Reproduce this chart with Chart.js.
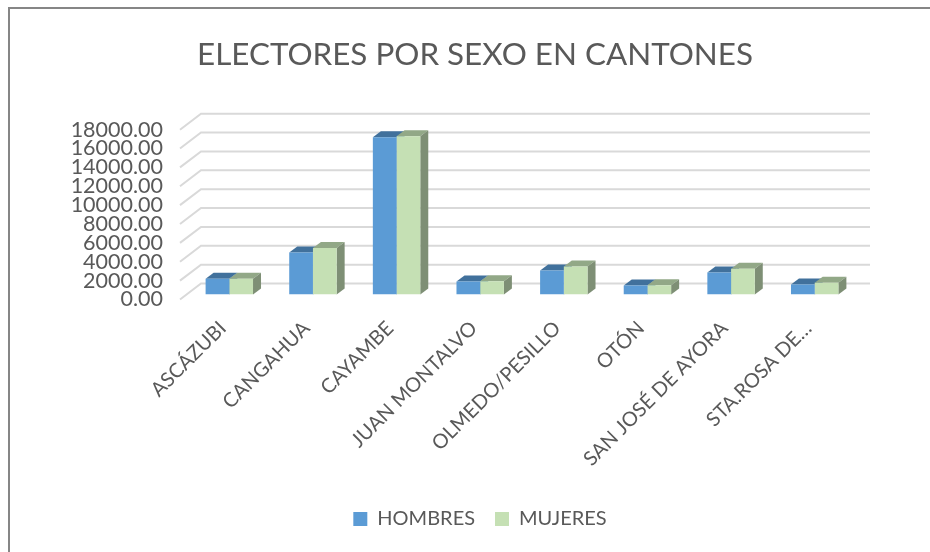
<!DOCTYPE html>
<html>
<head>
<meta charset="utf-8">
<title>Electores por sexo en cantones</title>
<script src="https://cdn.jsdelivr.net/npm/chart.js@4/dist/chart.umd.min.js"></script>
<style>
html, body { margin: 0; padding: 0; background: #fff; overflow: hidden; }
#frame { position: absolute; left: 8px; top: 7px; width: 922px; height: 545px; border-top: 2px solid #868686; border-left: 2px solid #868686; box-sizing: border-box; }
#chart { position: absolute; left: 0; top: 0; }
</style>
</head>
<body>
<div id="frame"></div>
<canvas id="chart" width="930" height="552"></canvas>
<script>
var cantones = ["ASCÁZUBI", "CANGAHUA", "CAYAMBE", "JUAN MONTALVO", "OLMEDO/PESILLO", "OTÓN", "SAN JOSÉ DE AYORA", "STA.ROSA DE…"];
var hombres = [1670, 4440, 16670, 1380, 2550, 960, 2340, 1070];
var mujeres = [1680, 4930, 16780, 1400, 2980, 970, 2730, 1250];

var textColor = "#595959";
var fontName = "Lato, 'Open Sans', sans-serif";

// fake 3D: floor/wall depth of the grid and of the bars
var wallDx = 21, wallDy = -16;
var barShiftX = 7.5, barShiftY = -5;
var barDx = 8, barDy = -6;

var fake3d = {
    id: "fake3d",
    afterLayout: function (chart) {
        // legend sits a little right of the title in the original
        chart.legend.left += 5;
        chart.legend.right += 5;
    },
    beforeDatasetsDraw: function (chart) {
        var ctx = chart.ctx;
        var x = chart.scales.x;
        var y = chart.scales.y;
        ctx.save();
        ctx.strokeStyle = "#d9d9d9";
        ctx.lineWidth = 2;
        y.ticks.forEach(function (t) {
            var py = y.getPixelForValue(t.value);
            ctx.beginPath();
            ctx.moveTo(x.left, py);
            ctx.lineTo(x.left + wallDx, py + wallDy);
            ctx.lineTo(x.right + wallDx, py + wallDy);
            ctx.stroke();
        });
        ctx.restore();

        ctx.save();
        ctx.translate(barShiftX, barShiftY);
        var topColors = ["#41719c", "#92a887"];
        var rightColors = ["#4d7ca6", "#7e8f75"];
        chart.data.datasets.forEach(function (ds, d) {
            chart.getDatasetMeta(d).data.forEach(function (bar) {
                var p = bar.getProps(["x", "y", "base", "width"], true);
                var l = p.x - p.width / 2, r = p.x + p.width / 2;
                // top face
                ctx.fillStyle = topColors[d];
                ctx.beginPath();
                ctx.moveTo(l, p.y);
                ctx.lineTo(l + barDx, p.y + barDy);
                ctx.lineTo(r + barDx, p.y + barDy);
                ctx.lineTo(r, p.y);
                ctx.closePath();
                ctx.fill();
                // right face
                ctx.fillStyle = rightColors[d];
                ctx.beginPath();
                ctx.moveTo(r, p.y);
                ctx.lineTo(r + barDx, p.y + barDy);
                ctx.lineTo(r + barDx, p.base + barDy);
                ctx.lineTo(r, p.base);
                ctx.closePath();
                ctx.fill();
            });
        });
    },
    afterDatasetsDraw: function (chart) {
        chart.ctx.restore();
    }
};

new Chart(document.getElementById("chart"), {
    type: "bar",
    data: {
        labels: cantones,
        datasets: [
            { label: "HOMBRES", data: hombres, backgroundColor: "#5b9bd5" },
            { label: "MUJERES", data: mujeres, backgroundColor: "#c5e0b4" }
        ]
    },
    options: {
        responsive: false,
        animation: false,
        layout: { padding: { left: 20, right: 0, top: 36, bottom: 13 } },
        datasets: { bar: { categoryPercentage: 0.567, barPercentage: 1 } },
        scales: {
            x: {
                grid: { display: false },
                border: { display: false },
                afterFit: function (scale) { scale.height = 189.5; },
                ticks: {
                    color: textColor,
                    font: { family: fontName, size: 20 },
                    minRotation: 45,
                    maxRotation: 45,
                    autoSkip: false,
                    labelOffset: 1,
                    padding: 9
                }
            },
            y: {
                min: 0,
                max: 18000,
                grid: { display: false },
                border: { display: false },
                afterFit: function (scale) { scale.width = 160; },
                ticks: {
                    stepSize: 2000,
                    autoSkip: false,
                    color: textColor,
                    font: { family: fontName, size: 21.5 },
                    padding: 9,
                    callback: function (v) { return v.toFixed(2); }
                }
            },
            // empty right axis, only keeps the plot clear of the right edge
            yRight: {
                position: "right",
                grid: { display: false },
                border: { display: false },
                ticks: { display: false },
                afterFit: function (scale) { scale.width = 81; }
            }
        },
        plugins: {
            tooltip: { enabled: false },
            title: {
                display: true,
                text: "ELECTORES POR SEXO EN CANTONES",
                color: textColor,
                font: { family: fontName, size: 31.4, weight: "normal" },
                padding: { top: 0, bottom: 56 }
            },
            legend: {
                position: "bottom",
                labels: {
                    color: textColor,
                    font: { family: fontName, size: 20 },
                    boxWidth: 14,
                    boxHeight: 14,
                    padding: 20
                }
            }
        }
    },
    plugins: [fake3d]
});
</script>
</body>
</html>
